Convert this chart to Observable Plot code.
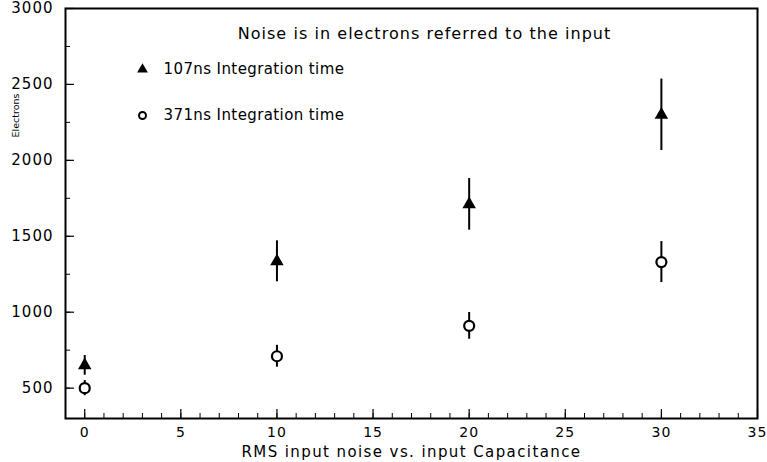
<!DOCTYPE html>
<html><head><meta charset="utf-8">
<script src="https://cdn.jsdelivr.net/npm/d3@7"></script>
<script src="https://cdn.jsdelivr.net/npm/@observablehq/plot@0.6"></script>
<style>
body{margin:0;background:#fff;}
svg{font-family:"DejaVu Sans",sans-serif;}
</style>
</head><body><div id="chart"></div>
<script>
const capacitance = [0, 10, 20, 30];
const noise107 = [650, 1335, 1710, 2300];
const err107 = [65, 135, 170, 235];
const noise371 = [500, 710, 910, 1330];
const err371 = [50, 72, 88, 135];
const xTickValues = [0, 5, 10, 15, 20, 25, 30, 35];
const yTickValues = [500, 1000, 1500, 2000, 2500, 3000];
const seriesLabels = ["107ns Integration time", "371ns Integration time"];
const titleText = "Noise is in electrons referred to the input";
const xLabel = "RMS input noise vs. input Capacitance";
const yLabel = "Electrons";

const xMinor = d3.range(0, 36, 1);
const yMinor = d3.range(500, 3001, 250);

const rows107 = capacitance.map((c, i) => ({c, v: noise107[i], lo: noise107[i] - err107[i], hi: noise107[i] + err107[i]}));
const rows371 = capacitance.map((c, i) => ({c, v: noise371[i], lo: noise371[i] - err371[i], hi: noise371[i] + err371[i]}));

const W = 767, H = 462, ML = 65, MR = 10, MT = 8, MB = 44;
const innerW = W - ML - MR, innerH = H - MT - MB;

const chart = Plot.plot({
  width: W, height: H,
  marginLeft: ML, marginRight: MR, marginTop: MT, marginBottom: MB,
  x: {domain: [-1, 35]},
  y: {domain: [300, 3000]},
  marks: [
    Plot.axisX({ticks: xTickValues, tickSize: 0, tickPadding: 9, fontSize: 14, label: null, tickFormat: d => String(d)}),
    Plot.axisY({ticks: yTickValues, tickSize: 0, tickPadding: 12, fontSize: 15, label: null, tickFormat: d => String(d)}),
    Plot.tickX(xTickValues, {x: d => d, insetTop: innerH - 9, strokeWidth: 1.2}),
    Plot.tickX(xMinor, {x: d => d, insetTop: innerH - 5, strokeWidth: 1}),
    Plot.tickY(yTickValues, {y: d => d, insetRight: innerW - 9, strokeWidth: 1.2}),
    Plot.tickY(yMinor, {y: d => d, insetRight: innerW - 5, strokeWidth: 1}),
    Plot.ruleX(rows107, {x: "c", y1: "lo", y2: "hi", strokeWidth: 2}),
    Plot.dot(rows107, {x: "c", y: "v", symbol: "triangle", fill: "black", r: 5}),
    Plot.ruleX(rows371, {x: "c", y1: "lo", y2: "hi", strokeWidth: 2}),
    Plot.dot(rows371, {x: "c", y: "v", symbol: "circle", fill: "white", stroke: "black", strokeWidth: 2.2, r: 5}),
    Plot.frame({strokeWidth: 2}),
    Plot.text([titleText], {frameAnchor: "top", lineAnchor: "middle", dx: 13, dy: 25, fontSize: 16, text: d => d}),
    Plot.dot([seriesLabels[0]], {frameAnchor: "top-left", dx: 77, dy: 61, symbol: "triangle", fill: "black", r: 4}),
    Plot.text([seriesLabels[0]], {frameAnchor: "top-left", lineAnchor: "middle", dx: 98, dy: 61, textAnchor: "start", fontSize: 15, text: d => d}),
    Plot.dot([seriesLabels[1]], {frameAnchor: "top-left", dx: 77, dy: 107, symbol: "circle", fill: "white", stroke: "black", strokeWidth: 2, r: 3.5}),
    Plot.text([seriesLabels[1]], {frameAnchor: "top-left", lineAnchor: "middle", dx: 98, dy: 107, textAnchor: "start", fontSize: 15, text: d => d}),
    Plot.text([xLabel], {frameAnchor: "bottom", lineAnchor: "middle", dy: 34, fontSize: 15, text: d => d}),
    Plot.text([yLabel], {frameAnchor: "top-left", lineAnchor: "middle", textAnchor: "middle", dx: -50, dy: 107, rotate: -90, fontSize: 9.5, text: d => d})
  ]
});
// letter spacing to approximate the wide geometric face of the original
d3.select(chart).selectAll("text").each(function() {
  const t = this.textContent;
  if (t === titleText) this.style.letterSpacing = "1.05px";
  else if (t === xLabel) this.style.letterSpacing = "1.4px";
  else if (seriesLabels.includes(t)) this.style.letterSpacing = "0.4px";
  else if (/^\d+$/.test(t)) this.style.letterSpacing = "1px";
});
document.getElementById("chart").appendChild(chart);
</script>
</body></html>
